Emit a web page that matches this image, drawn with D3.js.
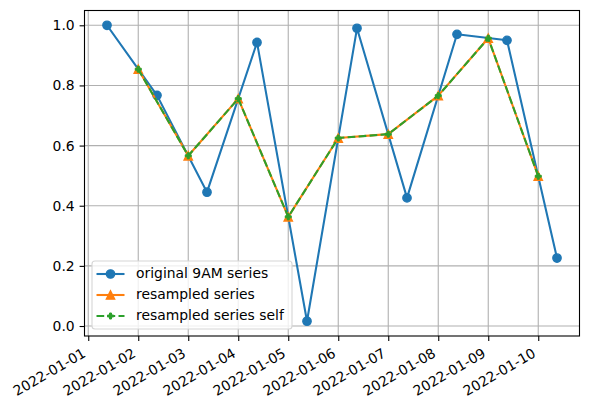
<!DOCTYPE html>
<html><head><meta charset="utf-8">
<script src="https://cdn.jsdelivr.net/npm/d3@7"></script>
<style>body{margin:0;background:#fff}svg{display:block;font-family:"DejaVu Sans",sans-serif}</style>
</head><body><svg id="c" width="590" height="409"></svg>
<script>
// Data
const origDates = ["2022-01-01T09:00","2022-01-02T09:00","2022-01-03T09:00","2022-01-04T09:00","2022-01-05T09:00","2022-01-06T09:00","2022-01-07T09:00","2022-01-08T09:00","2022-01-09T09:00","2022-01-10T09:00"];
const origValues = [1.0, 0.767, 0.445, 0.943, 0.016, 0.990, 0.426, 0.970, 0.950, 0.226];
const resDates = ["2022-01-02","2022-01-03","2022-01-04","2022-01-05","2022-01-06","2022-01-07","2022-01-08","2022-01-09","2022-01-10"];
const resValues = [0.854, 0.566, 0.756, 0.363, 0.625, 0.638, 0.766, 0.957, 0.498];
const resSelfValues = [0.854, 0.566, 0.756, 0.363, 0.625, 0.638, 0.766, 0.957, 0.498];
const xTickLabels = ["2022-01-01","2022-01-02","2022-01-03","2022-01-04","2022-01-05","2022-01-06","2022-01-07","2022-01-08","2022-01-09","2022-01-10"];
const yTicks = [0.0, 0.2, 0.4, 0.6, 0.8, 1.0];
const seriesNames = ["original 9AM series", "resampled series", "resampled series self"];
const colors = ["#1f77b4", "#ff7f0e", "#2ca02c"];

const parse = s => new Date(s + (s.length === 10 ? "T00:00" : ""));
const orig = origDates.map((d, i) => ({x: parse(d), y: origValues[i]}));
const res = resDates.map((d, i) => ({x: parse(d), y: resValues[i]}));
const resSelf = resDates.map((d, i) => ({x: parse(d), y: resSelfValues[i]}));

const L = 84.5, R = 579.5, T = 10.5, B = 336;
const svg = d3.select("#c");

// domain with 5% margins
const xmin = d3.min(orig, d => d.x), xmax = d3.max(orig, d => d.x);
const xspan = xmax - xmin;
const x = d3.scaleTime().domain([new Date(+xmin - 0.05 * xspan), new Date(+xmax + 0.05 * xspan)]).range([L, R]);
const ymin = d3.min(orig, d => d.y), ymax = d3.max(orig, d => d.y);
const yspan = ymax - ymin;
const y = d3.scaleLinear().domain([ymin - 0.05 * yspan, ymax + 0.05 * yspan]).range([B, T]);

const xTickDates = xTickLabels.map(parse);

// grid
const g = svg.append("g");
g.selectAll(".gx").data(xTickDates).enter().append("line")
  .attr("x1", d => x(d)).attr("x2", d => x(d)).attr("y1", T).attr("y2", B)
  .attr("stroke", "#b0b0b0").attr("stroke-width", 1.1);
g.selectAll(".gy").data(yTicks).enter().append("line")
  .attr("y1", d => y(d)).attr("y2", d => y(d)).attr("x1", L).attr("x2", R)
  .attr("stroke", "#b0b0b0").attr("stroke-width", 1.1);

// axes
const xAxis = d3.axisBottom(x).tickValues(xTickDates).tickFormat((d, i) => xTickLabels[i]).tickSize(4.9).tickPadding(3.5);
const xa = svg.append("g").attr("transform", `translate(0,${B})`).call(xAxis);
xa.select(".domain").remove();
xa.selectAll(".tick line").attr("stroke", "#000").attr("stroke-width", 1.1);
xa.selectAll(".tick text").attr("fill", "#000").attr("font-size", 13.9)
  .attr("font-family", "DejaVu Sans")
  .attr("text-anchor", "end").attr("dy", null)
  .attr("x", 0).attr("y", 0)
  .attr("transform", "translate(-2,20) rotate(-30)");

const yAxis = d3.axisLeft(y).tickValues(yTicks).tickFormat(d3.format(".1f")).tickSize(4.9).tickPadding(4.9);
const ya = svg.append("g").attr("transform", `translate(${L},0)`).call(yAxis);
ya.select(".domain").remove();
ya.selectAll(".tick line").attr("stroke", "#000").attr("stroke-width", 1.1);
ya.selectAll(".tick text").attr("fill", "#000").attr("font-size", 13.9).attr("font-family", "DejaVu Sans");

// lines
const line = d3.line().x(d => x(d.x)).y(d => y(d.y));
const lw = 2.08, mew = 1.39;
svg.append("path").datum(orig).attr("d", line).attr("fill", "none").attr("stroke", colors[0]).attr("stroke-width", lw).attr("stroke-linejoin", "round").attr("stroke-linecap", "square");
svg.selectAll(".m0").data(orig).enter().append("circle").attr("cx", d => x(d.x)).attr("cy", d => y(d.y)).attr("r", 4.17).attr("fill", colors[0]).attr("stroke", colors[0]).attr("stroke-width", mew);

const triPath = (s) => { const a = s / 2; return `M0,${-a}L${a},${a}L${-a},${a}Z`; };
svg.append("path").datum(res).attr("d", line).attr("fill", "none").attr("stroke", colors[1]).attr("stroke-width", lw).attr("stroke-linejoin", "round");
svg.selectAll(".m1").data(res).enter().append("path").attr("d", triPath(8.3)).attr("transform", d => `translate(${x(d.x)},${y(d.y)})`).attr("fill", colors[1]).attr("stroke", colors[1]).attr("stroke-width", mew);

const plusPath = (s) => { const a = s / 2, b = s / 6; return `M${-a},${-b}H${-b}V${-a}H${b}V${-b}H${a}V${b}H${b}V${a}H${-b}V${b}H${-a}Z`; };
svg.append("path").datum(resSelf).attr("d", line).attr("fill", "none").attr("stroke", colors[2]).attr("stroke-width", lw).attr("stroke-dasharray", "7.7,3.3");
svg.selectAll(".m2").data(resSelf).enter().append("path").attr("d", plusPath(6)).attr("transform", d => `translate(${x(d.x)},${y(d.y)})`).attr("fill", colors[2]).attr("stroke", colors[2]).attr("stroke-width", 1);

// spines
svg.append("rect").attr("x", L).attr("y", T).attr("width", R - L).attr("height", B - T).attr("fill", "none").attr("stroke", "#000").attr("stroke-width", 1.1);

// legend
const lg = svg.append("g");
lg.append("rect").attr("x", 92).attr("y", 261).attr("width", 200).attr("height", 68).attr("rx", 3)
  .attr("fill", "#fff").attr("fill-opacity", 0.8).attr("stroke", "#d6d6d6").attr("stroke-width", 1.1);
const rows = [274, 295, 316];
rows.forEach((ry, i) => {
  const l = lg.append("line").attr("x1", 96.5).attr("x2", 124.5).attr("y1", ry).attr("y2", ry).attr("stroke", colors[i]).attr("stroke-width", lw);
  if (i === 2) l.attr("stroke-dasharray", "7.7,3.3");
  if (i === 0) lg.append("circle").attr("cx", 110.5).attr("cy", ry).attr("r", 4.17).attr("fill", colors[0]).attr("stroke", colors[0]).attr("stroke-width", mew);
  if (i === 1) lg.append("path").attr("d", triPath(8.3)).attr("transform", `translate(110.5,${ry})`).attr("fill", colors[1]).attr("stroke", colors[1]).attr("stroke-width", mew);
  if (i === 2) lg.append("path").attr("d", plusPath(6)).attr("transform", `translate(110.5,${ry})`).attr("fill", colors[2]).attr("stroke", colors[2]).attr("stroke-width", 1);
  lg.append("text").attr("x", 136).attr("y", ry - 1).attr("dy", "0.35em").attr("font-size", 13.9).attr("fill", "#000").text(seriesNames[i]);
});
</script></body></html>
